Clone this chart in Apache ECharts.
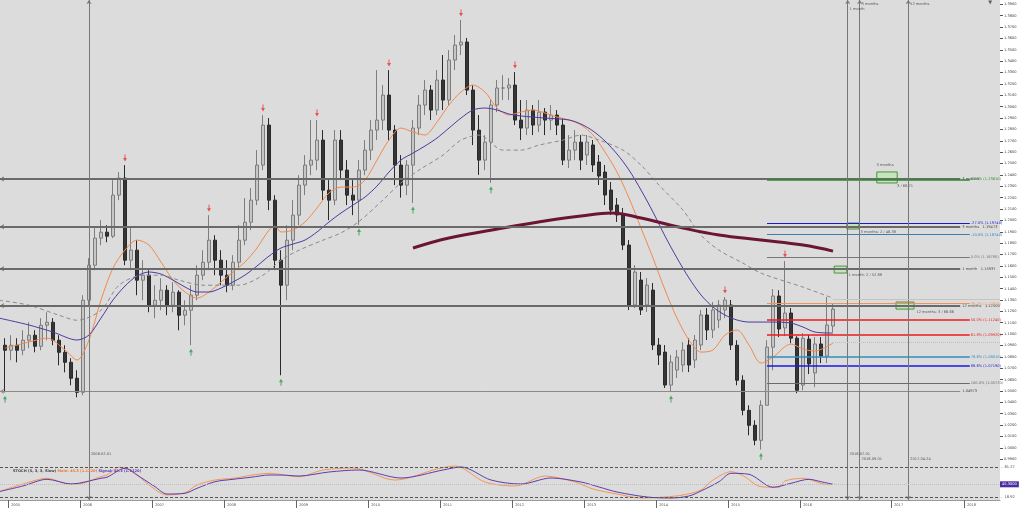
<!DOCTYPE html>
<html><head><meta charset="utf-8">
<script src="https://cdn.jsdelivr.net/npm/echarts@6/dist/echarts.min.js"></script>
<style>html,body{margin:0;padding:0;background:#fff}#c{width:1024px;height:508px}</style>
</head><body><div id="c"></div>
<script>
// ---------------- DATA ----------------
const firstMonthIndex = -1; // Dec 2004 (0 = Jan 2005), monthly candles
// [open, close, low, high]
const ohlc = [
[1.0902,1.0858,1.0488,1.0964],[1.0858,1.0902,1.0770,1.0990],[1.0902,1.0858,1.0752,1.0964],[1.0858,1.0946,1.0814,1.1034],
[1.0946,1.0990,1.0876,1.1104],[1.0990,1.0893,1.0840,1.1034],[1.0893,1.1078,1.0858,1.1140],[1.1078,1.1104,1.0946,1.1192],
[1.1104,1.0946,1.0902,1.1140],[1.0946,1.0840,1.0726,1.0990],[1.0840,1.0752,1.0664,1.0902],[1.0752,1.0612,1.0550,1.0788],
[1.0612,1.0488,1.0444,1.0682],[1.0488,1.1298,1.0462,1.1342],[1.1298,1.1606,1.1254,1.1668],[1.1606,1.1844,1.1562,1.1932],
[1.1844,1.1896,1.1782,1.2002],[1.1896,1.1861,1.1808,1.1958],[1.1861,1.2222,1.1844,1.2354],[1.2222,1.2372,1.2178,1.2424],
[1.2372,1.1650,1.1606,1.2486],[1.1650,1.1738,1.1562,1.1932],[1.1738,1.1474,1.1342,1.1826],[1.1474,1.1518,1.1298,1.1650],
[1.1518,1.1254,1.1192,1.1562],[1.1254,1.1298,1.1140,1.1430],[1.1298,1.1386,1.1210,1.1492],[1.1386,1.1254,1.1166,1.1430],
[1.1254,1.1368,1.1192,1.1456],[1.1368,1.1166,1.1034,1.1386],[1.1166,1.1210,1.1078,1.1298],[1.1210,1.1342,1.0902,1.1430],
[1.1342,1.1518,1.1298,1.1606],[1.1518,1.1632,1.1474,1.1738],[1.1632,1.1826,1.1562,1.2046],[1.1826,1.1650,1.1518,1.1870],
[1.1650,1.1518,1.1430,1.1738],[1.1518,1.1430,1.1368,1.1650],[1.1430,1.1632,1.1386,1.1694],[1.1632,1.1826,1.1562,1.1958],
[1.1826,1.1984,1.1782,1.2196],[1.1984,1.2178,1.1914,1.2284],[1.2178,1.2486,1.2134,1.2618],[1.2486,1.2838,1.2442,1.2926],
[1.2838,1.2178,1.2090,1.2900],[1.2178,1.1650,1.1562,1.2222],[1.1650,1.1430,1.0638,1.1738],[1.1430,1.1826,1.1298,1.1958],
[1.1826,1.2046,1.1738,1.2178],[1.2046,1.2310,1.1958,1.2398],[1.2310,1.2486,1.2222,1.2574],[1.2486,1.2530,1.2398,1.2882],
[1.2530,1.2706,1.2442,1.2882],[1.2706,1.2266,1.2178,1.2794],[1.2266,1.2178,1.2002,1.2354],[1.2178,1.2706,1.2134,1.2794],
[1.2706,1.2442,1.2354,1.2794],[1.2442,1.2222,1.2134,1.2530],[1.2222,1.2178,1.2046,1.2354],[1.2178,1.2442,1.1960,1.2530],
[1.2442,1.2618,1.2398,1.2706],[1.2618,1.2794,1.2530,1.2882],[1.2794,1.2882,1.2706,1.3322],[1.2882,1.3102,1.2794,1.3190],
[1.3102,1.2794,1.2706,1.3322],[1.2794,1.2486,1.2310,1.2838],[1.2486,1.2310,1.2200,1.2574],[1.2310,1.2486,1.2222,1.2530],
[1.2486,1.2812,1.2153,1.2882],[1.2812,1.3014,1.2750,1.3102],[1.3014,1.3146,1.2926,1.3234],[1.3146,1.2970,1.2882,1.3190],
[1.2970,1.3234,1.2926,1.3322],[1.3234,1.3058,1.2970,1.3454],[1.3058,1.3410,1.3014,1.3498],[1.3410,1.3542,1.3322,1.3630],
[1.3542,1.3568,1.3454,1.3762],[1.3568,1.3146,1.3102,1.3604],[1.3146,1.2794,1.2662,1.3190],[1.2794,1.2530,1.2400,1.2926],
[1.2530,1.2688,1.2442,1.2750],[1.2688,1.3014,1.2330,1.3058],[1.3014,1.3164,1.2952,1.3234],[1.3164,1.3164,1.3058,1.3278],
[1.3164,1.3190,1.3058,1.3252],[1.3190,1.2882,1.2838,1.3304],[1.2882,1.2812,1.2706,1.3058],[1.2812,1.2970,1.2750,1.3058],
[1.2970,1.2838,1.2750,1.3014],[1.2838,1.2952,1.2776,1.3058],[1.2952,1.2882,1.2750,1.2988],[1.2882,1.2926,1.2794,1.3014],
[1.2926,1.2838,1.2750,1.2970],[1.2838,1.2530,1.2486,1.2900],[1.2530,1.2618,1.2460,1.2750],[1.2618,1.2688,1.2530,1.2794],
[1.2688,1.2530,1.2442,1.2750],[1.2575,1.2689,1.2487,1.2751],[1.2663,1.2487,1.2425,1.2707],[1.2513,1.2390,1.2311,1.2575],
[1.2425,1.2223,1.2135,1.2487],[1.2267,1.2091,1.2047,1.2337],[1.2135,1.2047,1.1986,1.2197],[1.2047,1.1783,1.1739,1.2109],
[1.1783,1.1256,1.1212,1.1827],[1.1256,1.1546,1.1229,1.1607],[1.1475,1.1212,1.1168,1.1546],[1.1256,1.1431,1.1194,1.1493],
[1.1387,1.0904,1.0860,1.1449],[1.0904,1.0816,1.0728,1.0965],[1.0842,1.0552,1.0526,1.0904],[1.0552,1.0754,1.0490,1.0816],
[1.0684,1.0798,1.0614,1.0860],[1.0728,1.0860,1.0666,1.0930],[1.0904,1.0728,1.0666,1.0965],[1.0772,1.0948,1.0702,1.0992],
[1.0904,1.1168,1.0860,1.1212],[1.1168,1.1036,1.0948,1.1229],[1.1036,1.1212,1.0965,1.1282],[1.1124,1.1256,1.1053,1.1300],
[1.1212,1.1300,1.1141,1.1326],[1.1256,1.0904,1.0860,1.1300],[1.0902,1.0594,1.0550,1.0946],[1.0594,1.0330,1.0286,1.0638],
[1.0330,1.0198,1.0110,1.0374],[1.0198,1.0066,1.0022,1.0242],[1.0066,1.0374,0.9985,1.0418],[1.0374,1.0885,1.0374,1.0946],
[1.0885,1.1335,1.0682,1.1396],[1.1335,1.1045,1.0974,1.1386],[1.1054,1.1185,1.0983,1.1643],[1.1185,1.0964,1.0921,1.1229],
[1.0964,1.0506,1.0480,1.0982],[1.0552,1.0964,1.0506,1.1009],[1.0956,1.0737,1.0649,1.0992],[1.0658,1.0913,1.0534,1.0974],
[1.0913,1.0807,1.0745,1.0974],[1.0807,1.1080,1.0745,1.1326],[1.1071,1.1220,1.1018,1.1273]
];
const priceTicks = [0.99,1.00,1.01,1.02,1.03,1.04,1.05,1.06,1.07,1.08,1.09,1.10,1.11,1.12,1.13,1.14,1.15,1.16,1.17,1.18,1.19,1.20,1.21,1.22,1.23,1.24,1.25,1.26,1.27,1.28,1.29,1.30,1.31,1.32,1.33,1.34,1.35,1.36,1.37,1.38,1.39];
const yearLabels = ['2005','2006','2007','2008','2009','2010','2011','2012','2013','2014','2015','2016','2017','2018'];
const yearTickPos = [-0.5,11.5,23.5,35.5,47.5,59.5,71.5,83.5,95.5,107.5,119.5,131.5,146.67,158.83];
// moving averages [monthIndex, price]
const maFast = [[-1,1.0877],[3,1.0930],[6,1.0965],[9,1.0860],[11,1.0772],[13,1.0948],[15,1.1300],[17,1.1581],[19,1.1739],[21,1.1827],[23,1.1783],[25,1.1634],[27,1.1475],[29,1.1370],[31,1.1317],[33,1.1370],[35,1.1458],[37,1.1546],[39,1.1634],[41,1.1757],[43,1.1915],[44,1.1950],[45,1.1898],[47,1.1915],[49,1.1986],[51,1.2109],[53,1.2241],[55,1.2293],[57,1.2293],[59,1.2355],[61,1.2531],[63,1.2707],[65,1.2812],[67,1.2777],[69,1.2751],[71,1.2865],[73,1.3015],[75,1.3129],[77,1.3190],[79,1.3129],[81,1.2988],[83,1.2927],[85,1.2953],[87,1.2971],[89,1.2944],[91,1.2909],[93,1.2883],[95,1.2839],[97,1.2751],[99,1.2601],[101,1.2425],[103,1.2197],[105,1.1933],[107,1.1669],[109,1.1388],[111,1.1141],[113,1.0948],[115,1.0842],[117,1.0860],[119,1.0992],[121,1.1036],[123,1.0904],[125,1.0745],[127,1.0798],[130,1.0913],[132,1.0869],[134,1.0851],[137,1.0921]];
const maMid = [[-2,1.1141],[3,1.1080],[7,1.1018],[11,1.0948],[13,1.0992],[15,1.1141],[17,1.1300],[19,1.1423],[21,1.1511],[23,1.1546],[25,1.1528],[27,1.1475],[29,1.1414],[31,1.1370],[33,1.1370],[35,1.1405],[37,1.1458],[39,1.1519],[41,1.1599],[43,1.1686],[45,1.1757],[47,1.1792],[49,1.1827],[51,1.1898],[53,1.1986],[55,1.2065],[57,1.2135],[59,1.2205],[61,1.2302],[63,1.2425],[65,1.2531],[67,1.2592],[69,1.2654],[71,1.2724],[73,1.2812],[75,1.2900],[77,1.2971],[79,1.2988],[81,1.2971],[83,1.2935],[85,1.2918],[89,1.2900],[93,1.2883],[95,1.2847],[97,1.2786],[99,1.2698],[101,1.2584],[103,1.2443],[105,1.2267],[107,1.2073],[109,1.1862],[111,1.1669],[113,1.1493],[115,1.1344],[117,1.1238],[119,1.1168],[121,1.1124],[123,1.1106],[125,1.1106],[127,1.1106],[130,1.1097],[132,1.1062],[134,1.1018],[137,1.1009]];
const maSlow = [[-2,1.1298],[3,1.1254],[8,1.1166],[11,1.1122],[15,1.1210],[18,1.1430],[22,1.1518],[25,1.1518],[28,1.1474],[32,1.1430],[35,1.1430],[38,1.1430],[42,1.1518],[45,1.1650],[48,1.1738],[52,1.1826],[55,1.1890],[58,1.1990],[62,1.2180],[65,1.2330],[68,1.2442],[72,1.2574],[75,1.2706],[78,1.2750],[82,1.2618],[85,1.2618],[88,1.2662],[92,1.2706],[95,1.2750],[98,1.2706],[102,1.2618],[105,1.2486],[108,1.2310],[112,1.2090],[115,1.1870],[118,1.1738],[122,1.1624],[125,1.1536],[132,1.1413],[137,1.1316]];
const maLong = [[67,1.1757],[73,1.1845],[82,1.1933],[90,1.2003],[95,1.2038],[100,1.2065],[105,1.2021],[112,1.1933],[118,1.1871],[125,1.1827],[132,1.1783],[137,1.1730]];
// stochastic
const stochMain = [[-2,30.0],[2,45.9],[6,57.8],[9,47.4],[11,45.9],[15,61.1],[16,64.6],[18,80.6],[20,75.0],[23,43.8],[26,23.1],[29,27.8],[31,43.8],[34,54.2],[37,57.8],[43,68.2],[48,61.1],[52,75.0],[57,79.2],[64,54.2],[71,77.1],[74,83.4],[79,50.1],[84,41.8],[89,62.5],[94,50.1],[97,35.5],[101,25.1],[105,16.8],[109,18.9],[112,23.1],[115,33.5],[117,54.2],[120,71.5],[122,63.2],[125,40.3],[128,39.1],[129,52.2],[132,57.8],[136,45.3],[137,45.3]];
const stochSignal = [[-2,30.0],[2,41.8],[6,55.7],[10,45.9],[15,57.8],[16,59.9],[19,78.6],[21,64.6],[24,40.3],[26,25.1],[29,26.6],[31,37.0],[34,50.7],[37,55.7],[40,59.9],[43,64.6],[45,64.6],[48,62.5],[53,70.9],[58,75.0],[65,58.4],[72,75.0],[75,81.3],[80,54.2],[85,45.9],[90,58.4],[95,50.1],[98,39.7],[101,29.3],[106,18.9],[110,16.8],[113,21.0],[115,31.4],[118,50.7],[120,68.2],[123,66.1],[127,39.1],[130,47.4],[133,55.7],[135,50.7],[137,45.3]];
const stochLevels = [81.27, 18.92];
const stochMid = 50.01;
// fractal marks (month index)
const upFractalMonths = [19,33,42,51,63,75,84,119,129];
const downFractalMonths = [-1,30,45,58,67,80,110,125];
// horizontal levels (full width)
const levels = [
  {v:1.2364, text:'3 months'},
  {v:1.1944, text:'3 months   1.19473'},
  {v:1.1575, text:'1 month   1.15937'},
  {v:1.1250, text:'12 months   1.12500'},
  {v:1.0497, text:'1.04973', thin:true}
];
// fibonacci levels (from swing low onward)
const fibStart = 126, fibEnd = 159.8;
const fibs = [
  {v:1.2361, text:'61.8% (1.23610)', color:'#2e8b2e', w:1.5},
  {v:1.1974, text:'-27.0% (1.19740)', color:'#1a1ad0', w:1.2},
  {v:1.1874, text:'-10.0% (1.18740)', color:'#3a7fb0', w:1.2},
  {v:1.1678, text:'0.0% (1.16780)', color:'#777777', w:1},
  {v:1.1267, text:'38.2% (1.12670)', color:'#f0935a', w:1},
  {v:1.1124, text:'50.0% (1.11240)', color:'#ee1c1c', w:1.5},
  {v:1.0992, text:'61.8% (1.09920)', color:'#ee1c1c', w:1.5},
  {v:1.0801, text:'78.6% (1.08010)', color:'#2f8fb8', w:1.5},
  {v:1.0719, text:'88.6% (1.07190)', color:'#1a1ae0', w:1.5},
  {v:1.0572, text:'100.0% (1.05720)', color:'#6a6a6a', w:1.2}
];
// vertical time lines
const vLines = [
  {m:13, name:'', date:'2006.02.01'},
  {m:139.45, name:'1 month', date:'2016.07.01'},
  {m:141.45, name:'3 months', date:'2016.09.01'},
  {m:149.55, name:'12 months', date:'2017.04.24'}
];
// target boxes [m1,p1,m2,p2]
const boxes = [
  [144.3,1.2426,147.7,1.2329],
  [139.3,1.1977,141.3,1.1924],
  [137.2,1.1598,139.3,1.1537],
  [147.5,1.1282,150.5,1.1220]
];
const notes = [
  {m:145.67, p:1.2487, t:'3 months', pos:'inside'},
  {m:147.67, p:1.2302, t:'3 / 68.71', pos:'right'},
  {m:141.6, p:1.1900, t:'3 months: 2 / 46.38', pos:'right'},
  {m:139.6, p:1.1517, t:'1 month: 2 / 52.88', pos:'right'},
  {m:150.9, p:1.1191, t:'12 months: 3 / 66.66', pos:'right'}
];
const priceBoxes = [
  {v:1.1726, text:'1.17260', bg:'#6b1535'},
  {v:1.1335, text:'1.13350', bg:'#8c8c8c'},
  {v:1.1308, text:'1.13080', bg:'#8c8c8c'},
  {v:1.10183, text:'1.10183', bg:'#4b2fa0'},
  {v:1.0921, text:'1.09210', bg:'#f0843c'}
];
const stochBox = {v:45.3, text:'45.3000', bg:'#4b2fa0'};
const shiftMarker = [163.2, 1.3915]; // chart-shift marker at top right

// ---------------- CHART ----------------
const FONT = 'DejaVu Sans';
const P_MIN = 0.95412, P_MAX = 1.3938;
const S_MIN = 12.66, S_MAX = 1052.2;
const X_MIN = -11/6, X_MAX = -11/6 + 1000/6;

const candleData = ohlc.map((d,i)=>[i+firstMonthIndex, d[0], d[1], d[2], d[3]]);
const highOf = m => ohlc[m-firstMonthIndex][3];
const lowOf = m => ohlc[m-firstMonthIndex][2];

const markLineData = [];
levels.forEach(l=>{
  markLineData.push([
    {coord:[X_MIN,l.v], symbol:'arrow', symbolSize:4,
     lineStyle:{color: l.thin?'#8a8a8a':'#6a6a6a', width: l.thin?1:2, type:'solid'},
     label:{show:true, position:'end', formatter:l.text, fontSize:3.6, color:'#444', distance:2, fontFamily:FONT}},
    {coord:[158.2,l.v], symbol:'none'}
  ]);
});
fibs.forEach(f=>{
  markLineData.push([
    {coord:[fibStart,f.v], symbol:'none',
     lineStyle:{color:f.color, width:f.w, type:'solid'},
     label:{show:true, position:'end', formatter:f.text, fontSize:3.6, color:f.color, distance:1, fontFamily:FONT}},
    {coord:[fibEnd,f.v], symbol:'none'}
  ]);
});
vLines.forEach(v=>{
  markLineData.push([
    {coord:[v.m,P_MIN], symbol:'arrow', symbolSize:4, lineStyle:{color:'#777', width:1, type:'solid'}, label:{show:false}},
    {coord:[v.m,P_MAX], symbol:'arrow', symbolSize:4}
  ]);
});
// faint current lines
markLineData.push([{coord:[137,1.1308], symbol:'none', lineStyle:{color:'#c4c4c4',width:1,type:'solid'}, label:{show:false}},{coord:[X_MAX,1.1308],symbol:'none'}]);
markLineData.push([{coord:[137,1.0924], symbol:'none', lineStyle:{color:'#bdbdbd',width:1,type:'dotted'}, label:{show:false}},{coord:[X_MAX,1.0924],symbol:'none'}]);

const noteData = [];
notes.forEach(n=>noteData.push({value:[n.m,n.p], label:{formatter:n.t, position:n.pos==='inside'?'inside':'right', distance:0}}));
vLines.forEach((v,i)=>{
  if (v.name) noteData.push({value:[v.m+0.3, i===1?1.3859:1.3898], label:{formatter:v.name, position:'right', distance:0}});
  noteData.push({value:[v.m+0.3, i<=1?0.9945:0.9898], label:{formatter:v.date, position:'right', distance:0}});
});

const boxLabel = (text,bg)=>({show:true, position:'end', formatter:text, distance:0, backgroundColor:bg, color:'#fff', padding:[1,2,1,2], fontSize:3.6, fontFamily:FONT});
const priceBoxLines = priceBoxes.map(b=>({yAxis:b.v, lineStyle:{opacity:0}, label:boxLabel(b.text,b.bg)}));
const axisTextLabel = t=>({show:true, position:'end', formatter:'-  '+t, distance:1, color:'#444', fontSize:3.6, fontFamily:FONT});

const option = {
  animation:false,
  backgroundColor:'#ffffff',
  textStyle:{fontFamily:FONT},
  title:{
    text:'{g|STOCH (5, 3, 3, Slow)} {o|Main: 45.3 (1.1220)} {p|Signal: 45.3 (1.1220)}',
    left:8, top:464,
    textStyle:{fontSize:3.6, rich:{g:{fontSize:3.6,color:'#444'},o:{fontSize:3.6,color:'#f07a30'},p:{fontSize:3.6,color:'#5a3fb0'}}}
  },
  grid:{left:0, right:24, top:0, bottom:8, show:true, backgroundColor:'#dcdcdc', borderWidth:0},
  xAxis:{
    type:'value', min:X_MIN, max:X_MAX, position:'bottom',
    axisLine:{show:true, onZero:false, lineStyle:{color:'#999', width:1}},
    axisTick:{show:true, customValues:yearTickPos, length:8, lineStyle:{color:'#666'}},
    axisLabel:{show:true, customValues:yearTickPos, fontSize:3.6, color:'#555', margin:3, align:'left', padding:[0,0,0,3],
      formatter:(v)=>{const i=yearTickPos.findIndex(t=>Math.abs(t-v)<0.01);return i>=0?yearLabels[i]:'';}},
    splitLine:{show:false}
  },
  yAxis:[
    {type:'value', min:P_MIN, max:P_MAX, position:'right',
     axisLine:{show:false, onZero:false}, splitLine:{show:false},
     axisTick:{show:true, customValues:priceTicks, length:3, lineStyle:{color:'#555'}},
     axisLabel:{show:true, customValues:priceTicks, fontSize:3.6, color:'#444', margin:4, formatter:v=>v.toFixed(4)}},
    {type:'value', min:S_MIN, max:S_MAX, show:false, axisLine:{onZero:false}}
  ],
  series:[
    {type:'candlestick', name:'price', xAxisIndex:0, yAxisIndex:0, data:candleData,
     encode:{x:0, y:[1,2,3,4]}, barWidth:4.4,
     itemStyle:{color:'#c6c6c6', color0:'#353535', borderColor:'#7d7d7d', borderColor0:'#2a2a2a', borderWidth:1},
     markLine:{silent:true, symbol:['none','none'], data:markLineData, animation:false},
     markArea:{silent:true, data:boxes.map(b=>[{coord:[b[0],b[1]], itemStyle:{color:'#c5e3bc', borderColor:'#4f8f45', borderWidth:1}},{coord:[b[2],b[3]]}])},
     z:3},
    {type:'line', name:'fast', data:maFast, yAxisIndex:0, showSymbol:false, smooth:0.3, lineStyle:{color:'#f08a4b', width:1}, z:4,
     markLine:{silent:true, symbol:['none','none'], data:[priceBoxLines[4]]}},
    {type:'line', name:'mid', data:maMid, yAxisIndex:0, showSymbol:false, smooth:0.3, lineStyle:{color:'#4e3a9e', width:1}, z:4,
     markLine:{silent:true, symbol:['none','none'], data:[priceBoxLines[3]]}},
    {type:'line', name:'slow', data:maSlow, yAxisIndex:0, showSymbol:false, smooth:0.3, lineStyle:{color:'#8a8a8a', width:1, type:[4,3]}, z:4,
     markLine:{silent:true, symbol:['none','none'], data:[priceBoxLines[1], priceBoxLines[2]]}},
    {type:'line', name:'long', data:maLong, yAxisIndex:0, showSymbol:false, smooth:0.4, lineStyle:{color:'#6b1535', width:3}, z:4,
     markLine:{silent:true, symbol:['none','none'], data:[priceBoxLines[0]]}},
    {type:'line', name:'stochMain', data:stochMain, yAxisIndex:1, showSymbol:false, smooth:0.3, lineStyle:{color:'#f79456', width:1}, z:4,
     markLine:{silent:true, symbol:['none','none'], data:[
       ...stochLevels.map(v=>({yAxis:v, lineStyle:{color:'#555', width:1, type:[3,2]}, label:axisTextLabel(v.toFixed(2))})),
       {yAxis:stochMid, lineStyle:{opacity:0}, label:axisTextLabel(stochMid.toFixed(2))}
     ]}},
    {type:'line', name:'stochSignal', data:stochSignal, yAxisIndex:1, showSymbol:false, smooth:0.3, lineStyle:{color:'#5a3fb0', width:1}, z:4,
     markLine:{silent:true, symbol:['none','none'], data:[{yAxis:stochBox.v, lineStyle:{color:'#bdbdbd', width:1, type:'dotted'},
       label:boxLabel(stochBox.text, stochBox.bg)}]}},
    {type:'scatter', name:'upFractals', yAxisIndex:0, data:upFractalMonths.map(m=>[m, highOf(m)]),
     symbol:'path://M3,0 L5,0 L5,5 L8,5 L4,10 L0,5 L3,5 Z', symbolSize:[4,7], symbolOffset:[0,-7], itemStyle:{color:'#e8332f'}, z:5},
    {type:'scatter', name:'downFractals', yAxisIndex:0, data:downFractalMonths.map(m=>[m, lowOf(m)]),
     symbol:'path://M4,0 L8,5 L5,5 L5,10 L3,10 L3,5 L0,5 Z', symbolSize:[4,7], symbolOffset:[0,7], itemStyle:{color:'#2a9a4a'}, z:5},
    {type:'scatter', name:'shift', yAxisIndex:0, data:[shiftMarker], symbol:'triangle', symbolRotate:180, symbolSize:4, itemStyle:{color:'#444'}, silent:true, z:5},
    {type:'scatter', name:'notes', yAxisIndex:0, data:noteData, symbolSize:0, silent:true,
     label:{show:true, fontSize:3.6, color:'#333', fontFamily:FONT}, z:6}
  ]
};
const chart = echarts.init(document.getElementById('c'));
chart.setOption(option);
</script>
</body></html>
